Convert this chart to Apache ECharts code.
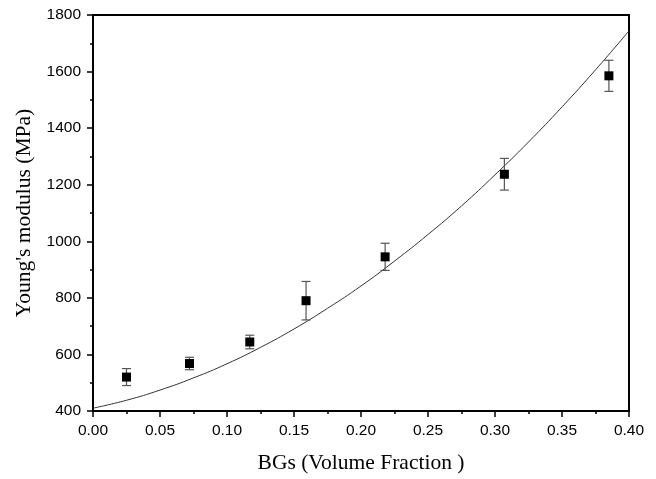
<!DOCTYPE html>
<html>
<head>
<meta charset="utf-8">
<script src="https://cdn.jsdelivr.net/npm/echarts@6/dist/echarts.min.js"></script>
<style>
  html, body { margin: 0; padding: 0; background: #fff; }
  #chart { width: 656px; height: 479px; }
</style>
</head>
<body>
<div id="chart"></div>
<script>
// measured points (volume fraction, modulus, error)
const bgFraction = [0.025, 0.072, 0.117, 0.159, 0.218, 0.307, 0.385];
const modulus = [520, 568, 644, 790, 945, 1237, 1585];
const modulusErr = [30, 22, 24, 68, 48, 56, 55];

// fitted curve
const fitX = [0, 0.025, 0.05, 0.075, 0.1, 0.125, 0.15, 0.175, 0.2, 0.225, 0.25, 0.275, 0.3, 0.325, 0.35, 0.375, 0.4];
const fitY = [410, 438, 474, 517, 567, 625, 690, 763, 842, 930, 1024, 1125, 1235, 1351, 1475, 1606, 1744];

const chart = echarts.init(document.getElementById("chart"));

const labelFont = { fontFamily: "Liberation Sans", fontSize: 15.5, color: "#000" };
const titleFont = { fontFamily: "Liberation Serif", fontSize: 21.5, color: "#000" };

const option = {
    animation: false,
    grid: {
        left: 93,
        right: 27,
        top: 15,
        bottom: 67,
        show: true,
        borderColor: "#000",
        borderWidth: 2,
    },
    xAxis: {
        type: "value",
        min: 0,
        max: 0.4,
        interval: 0.05,
        name: "BGs (Volume Fraction )",
        nameLocation: "middle",
        nameGap: 41,
        nameTextStyle: titleFont,
        axisLine: { show: true, lineStyle: { color: "#000", width: 2 } },
        axisTick: { show: true, length: 6, lineStyle: { color: "#000", width: 1.5 } },
        minorTick: { show: true, splitNumber: 2, length: 3, lineStyle: { color: "#000", width: 1.5 } },
        axisLabel: {
            ...labelFont,
            margin: 12,
            formatter: (v) => v.toFixed(2),
        },
        splitLine: { show: false },
    },
    yAxis: {
        type: "value",
        min: 400,
        max: 1800,
        interval: 200,
        name: "Young's modulus (MPa)",
        nameLocation: "middle",
        nameGap: 58,
        nameTextStyle: titleFont,
        axisLine: { show: true, lineStyle: { color: "#000", width: 2 } },
        axisTick: { show: true, length: 6, lineStyle: { color: "#000", width: 1.5 } },
        minorTick: { show: true, splitNumber: 2, length: 3, lineStyle: { color: "#000", width: 1.5 } },
        axisLabel: { ...labelFont, margin: 12, formatter: (v) => String(v) },
        splitLine: { show: false },
    },
    series: [
        {
            name: "fit",
            type: "line",
            smooth: true,
            showSymbol: false,
            data: fitX.map((x, i) => [x, fitY[i]]),
            lineStyle: { color: "#333", width: 1 },
            z: 2,
        },
        {
            name: "error",
            type: "custom",
            data: bgFraction.map((x, i) => [x, modulus[i] - modulusErr[i], modulus[i] + modulusErr[i]]),
            renderItem: (params, api) => {
                const low = api.coord([api.value(0), api.value(1)]);
                const high = api.coord([api.value(0), api.value(2)]);
                const hw = 4.5;
                const style = { stroke: "#555", lineWidth: 1.2 };
                return {
                    type: "group",
                    children: [
                        { type: "line", shape: { x1: low[0], y1: low[1], x2: high[0], y2: high[1] }, style },
                        { type: "line", shape: { x1: low[0] - hw, y1: low[1], x2: low[0] + hw, y2: low[1] }, style },
                        { type: "line", shape: { x1: high[0] - hw, y1: high[1], x2: high[0] + hw, y2: high[1] }, style },
                    ],
                };
            },
            z: 3,
        },
        {
            name: "measured",
            type: "scatter",
            symbol: "rect",
            symbolSize: 9,
            data: bgFraction.map((x, i) => [x, modulus[i]]),
            itemStyle: { color: "#000", opacity: 1 },
            emphasis: { disabled: true },
            z: 4,
        },
    ],
};

chart.setOption(option);
</script>
</body>
</html>
